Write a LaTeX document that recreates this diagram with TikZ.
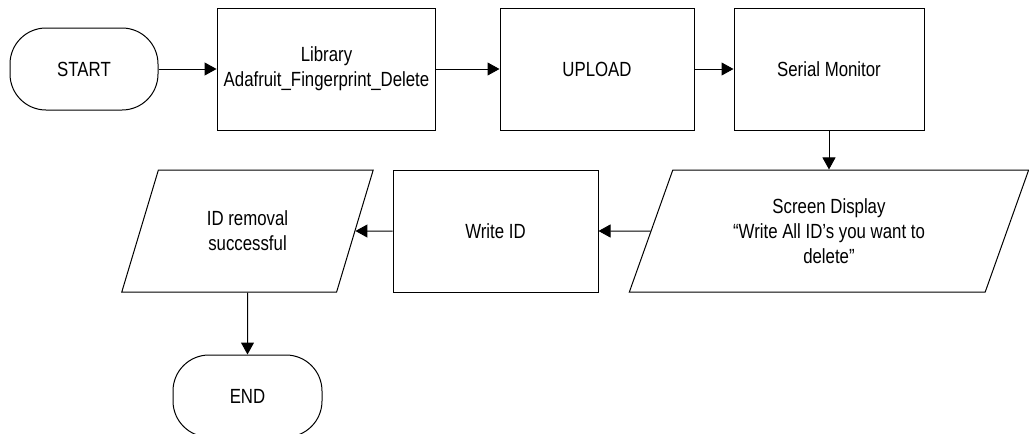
\documentclass[tikz,border=0pt]{standalone}
\usepackage{fontspec}
\setmainfont{Liberation Sans}[FakeStretch=0.82]
\usetikzlibrary{shapes.geometric,arrows.meta}

\begin{document}
\begin{tikzpicture}[x=0.5pt, y=-0.5pt, line width=0.5pt,
    every node/.style={font=\fontsize{10.25}{12.5}\selectfont, align=center},
    term/.style={draw, rounded corners=18pt, minimum width=74pt, minimum height=41pt},
    proc/.style={draw, minimum height=61pt},
    io/.style={draw, trapezium, trapezium left angle=70, trapezium right angle=110,
      trapezium stretches=true, minimum height=61pt},
    arr/.style={-{Triangle[length=6pt, width=6.5pt]}}]
      \useasboundingbox (0,0) rectangle (1029,434);

      % Top row
      \node[term] (start) at (84,69) {START};
      \node[proc, minimum width=108.5pt] (lib) at (326.5,69) {Library\\Adafruit\_Fingerprint\_Delete};
      \node[proc, minimum width=97pt] (upload) at (597,69) {UPLOAD};
      \node[proc, minimum width=95pt] (serial) at (829,69) {Serial Monitor};

      % Bottom row
      \node[io, minimum width=200pt] (screen) at (829,231) {Screen Display\\``Write All ID’s you want to\\delete''};
      \node[proc, minimum width=102.5pt] (writeid) at (495.5,231) {Write ID};
      \node[io, minimum width=126.5pt] (removed) at (247.5,231) {ID removal\\successful};
      \node[term, minimum width=74.5pt] (end) at (247.5,396) {END};

      % Connectors
      \foreach \a/\b in {start/lib, lib/upload, upload/serial, screen/writeid, writeid/removed} {
        \draw[arr] (\a) -- (\b);
      }
      \draw[arr] (serial) -- (screen);
      \draw[arr] (removed) -- (end);
    \end{tikzpicture}
\end{document}
